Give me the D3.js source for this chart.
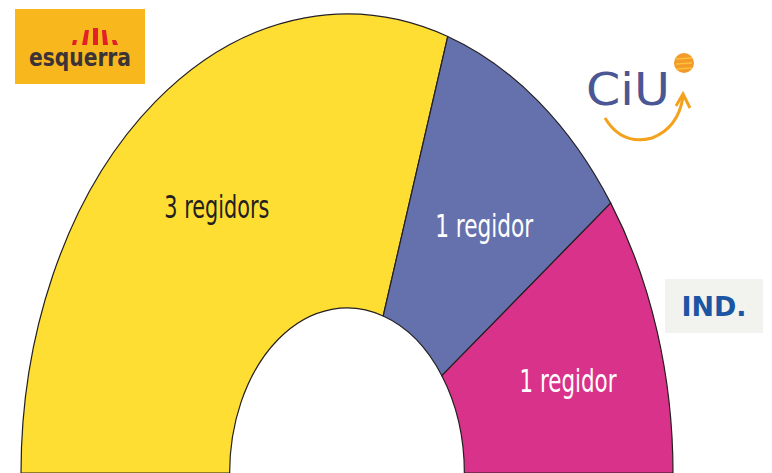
<!DOCTYPE html>
<html>
<head>
<meta charset="utf-8">
<script src="https://cdn.jsdelivr.net/npm/d3@7"></script>
<style>
  body { margin: 0; background: #fff; }
  svg { display: block; }
</style>
</head>
<body>
<script>
// Width and height
var w = 772;
var h = 473;

// data
var parties = ["ERC", "CiU", "IND"];
var seats = [3, 1, 1];
var seatLabels = ["3 regidors", "1 regidor", "1 regidor"];
var fills = ["#ffde33", "#6571ad", "#d9328a"];
var labelColors = ["#231f20", "#ffffff", "#ffffff"];
var labelWidths = [105, 98, 97];
var labelNudge = [[4, -6], [3, 13], [4, 7]];

// ellipse geometry (the pie is drawn on a unit circle and stretched)
var cx = 347, cy = 473;
var rx = 326, ry = 459;

var svg = d3.select("body")
  .append("svg")
  .attr("width", w)
  .attr("height", h);

var pie = d3.pie()
  .sort(null)
  .startAngle(-Math.PI / 2)
  .endAngle(Math.PI / 2);

var arc = d3.arc()
  .innerRadius(0.36)
  .outerRadius(1);

var labelArc = d3.arc()
  .innerRadius(0.7)
  .outerRadius(0.7);

var slices = pie(seats);

var g = svg.append("g")
  .attr("transform", "translate(" + cx + "," + cy + ") scale(" + rx + "," + ry + ")");

g.selectAll("path")
  .data(slices)
  .enter()
  .append("path")
  .attr("d", arc)
  .attr("fill", function(d, i) { return fills[i]; })
  .attr("stroke", "#231f20")
  .attr("stroke-width", 1.2)
  .attr("vector-effect", "non-scaling-stroke");

// seat labels
svg.selectAll("text.seat")
  .data(slices)
  .enter()
  .append("text")
  .attr("class", "seat")
  .attr("x", function(d, i) { return cx + labelArc.centroid(d)[0] * rx + labelNudge[i][0]; })
  .attr("y", function(d, i) { return cy + labelArc.centroid(d)[1] * ry + labelNudge[i][1]; })
  .attr("dy", "0.35em")
  .attr("text-anchor", "middle")
  .attr("textLength", function(d, i) { return labelWidths[i]; })
  .attr("lengthAdjust", "spacingAndGlyphs")
  .style("font-family", "'DejaVu Sans Condensed', 'DejaVu Sans', sans-serif")
  .style("font-size", "32px")
  .style("fill", function(d, i) { return labelColors[i]; })
  .text(function(d, i) { return seatLabels[i]; });

// esquerra logo
var erc = svg.append("g");
erc.append("rect")
  .attr("x", 15).attr("y", 9)
  .attr("width", 130).attr("height", 75)
  .attr("fill", "#f8b81d");
// the little red "bars" above the name
var bars = [
  "M72,45 L73,40 L77,40 L76,45 Z",
  "M82,45 L85,30 L89,30 L87,45 Z",
  "M93,45 L93,28 L98,28 L98,45 Z",
  "M103,45 L102,30 L106,30 L108,45 Z",
  "M113,45 L112,40 L116,40 L118,45 Z"
];
erc.selectAll("path")
  .data(bars)
  .enter()
  .append("path")
  .attr("d", function(d) { return d; })
  .attr("fill", "#e3202a");
erc.append("text")
  .attr("x", 80).attr("y", 66)
  .attr("text-anchor", "middle")
  .attr("textLength", 102)
  .attr("lengthAdjust", "spacingAndGlyphs")
  .style("font-family", "'DejaVu Sans', sans-serif")
  .style("font-weight", "bold")
  .style("font-size", "24px")
  .style("fill", "#3b3336")
  .text("esquerra");

// CiU logo
var ciu = svg.append("g");
ciu.append("text")
  .attr("x", 628).attr("y", 105)
  .attr("text-anchor", "middle")
  .attr("textLength", 84)
  .attr("lengthAdjust", "spacingAndGlyphs")
  .style("font-family", "'DejaVu Sans', sans-serif")
  .style("font-size", "44px")
  .style("fill", "#4b5794")
  .text("CiU");
ciu.append("path")
  .attr("d", "M605,118 Q622,146 652,138 Q678,128 683,97")
  .attr("fill", "none")
  .attr("stroke", "#f4a21d")
  .attr("stroke-width", 3);
ciu.append("path")
  .attr("d", "M676,106 L683,94 L690,108")
  .attr("fill", "none")
  .attr("stroke", "#f4a21d")
  .attr("stroke-width", 3);
ciu.append("circle")
  .attr("cx", 684).attr("cy", 63).attr("r", 10)
  .attr("fill", "#f39a2a");
ciu.selectAll("line")
  .data([59, 64, 69])
  .enter()
  .append("line")
  .attr("x1", 676).attr("x2", 692)
  .attr("y1", function(d) { return d; })
  .attr("y2", function(d) { return d - 1; })
  .attr("stroke", "#fbc23a")
  .attr("stroke-width", 1.5);

// IND. box
svg.append("rect")
  .attr("x", 665).attr("y", 279)
  .attr("width", 98).attr("height", 54)
  .attr("fill", "#f2f2ee");
svg.append("text")
  .attr("x", 714).attr("y", 316)
  .attr("text-anchor", "middle")
  .attr("textLength", 65)
  .attr("lengthAdjust", "spacingAndGlyphs")
  .style("font-family", "'DejaVu Sans', sans-serif")
  .style("font-weight", "bold")
  .style("font-size", "26px")
  .style("fill", "#1b55a3")
  .text("IND.");
</script>
</body>
</html>
